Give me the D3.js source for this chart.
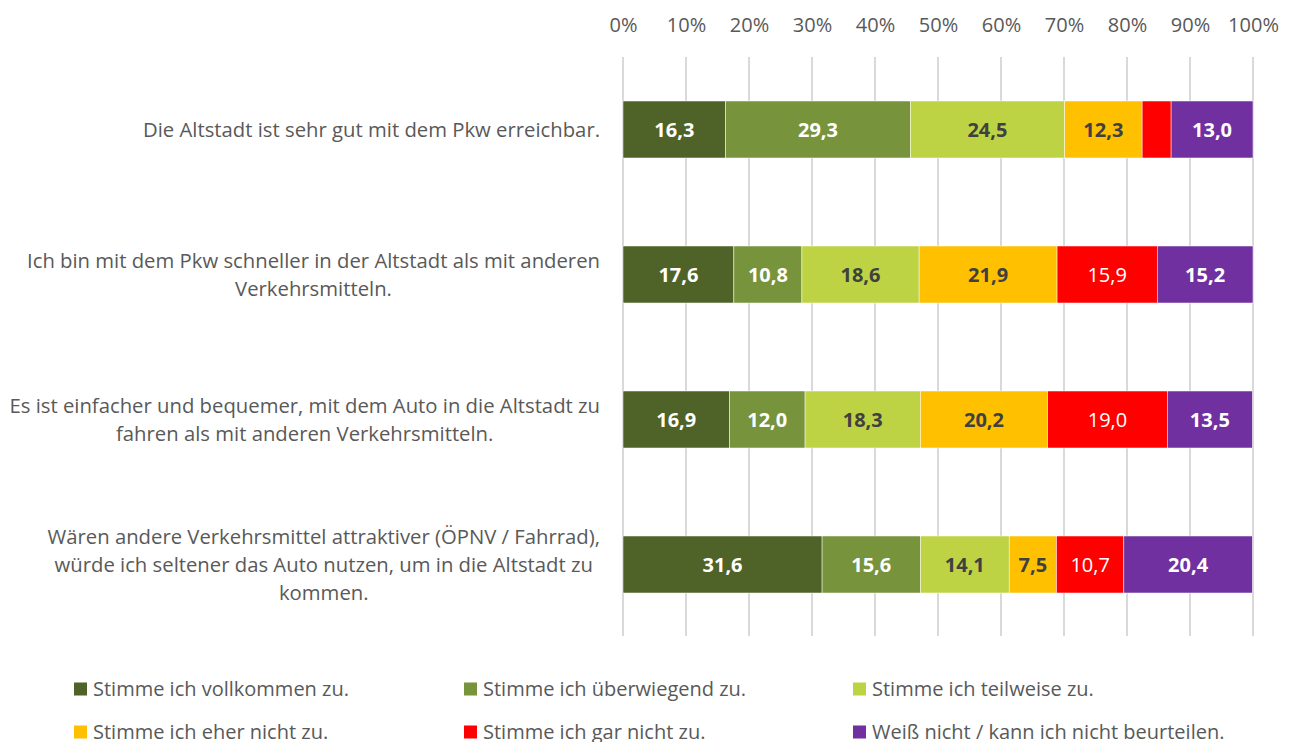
<!DOCTYPE html>
<html><head><meta charset="utf-8">
<script src="https://cdn.jsdelivr.net/npm/d3@7"></script>
<style>html,body{margin:0;padding:0;background:#fff;}svg{display:block;font-family:"Open Sans",sans-serif;}</style>
</head><body>
<svg id="chart" width="1290" height="742"></svg>
<script>
const categories = [
  "Die Altstadt ist sehr gut mit dem Pkw erreichbar.",
  "Ich bin mit dem Pkw schneller in der Altstadt als mit anderen\nVerkehrsmitteln.",
  "Es ist einfacher und bequemer, mit dem Auto in die Altstadt zu\nfahren als mit anderen Verkehrsmitteln.",
  "Wären andere Verkehrsmittel attraktiver (ÖPNV / Fahrrad),\nwürde ich seltener das Auto nutzen, um in die Altstadt zu\nkommen."
];
const seriesNames = [
  "Stimme ich vollkommen zu.",
  "Stimme ich überwiegend zu.",
  "Stimme ich teilweise zu.",
  "Stimme ich eher nicht zu.",
  "Stimme ich gar nicht zu.",
  "Weiß nicht / kann ich nicht beurteilen."
];
const vollkommen = [16.3, 17.6, 16.9, 31.6];
const ueberwiegend = [29.3, 10.8, 12.0, 15.6];
const teilweise = [24.5, 18.6, 18.3, 14.1];
const eherNicht = [12.3, 21.9, 20.2, 7.5];
const garNicht = [4.6, 15.9, 19.0, 10.7];
const weissNicht = [13.0, 15.2, 13.5, 20.4];
const showLabel = [[true,true,true,true],[true,true,true,true],[true,true,true,true],[true,true,true,true],[false,true,true,true],[true,true,true,true]];
const tickValues = [0,10,20,30,40,50,60,70,80,90,100];

const colors = ["#4F6228","#77933C","#BDD344","#FFC000","#FF0000","#7030A0"];
const labelColors = ["#FFFFFF","#FFFFFF","#404040","#404040","#FFFFFF","#FFFFFF"];
const labelWeights = ["bold","bold","bold","bold","normal","bold"];

const series = [vollkommen, ueberwiegend, teilweise, eherNicht, garNicht, weissNicht];
const rows = categories.map((c,i)=>{ const o={cat:c}; seriesNames.forEach((s,j)=>o[s]=series[j][i]); return o; });
const stacked = d3.stack().keys(seriesNames)(rows);

const svg = d3.select("#chart");
const x = d3.scaleLinear().domain([0,100]).range([623,1253]);
const y = d3.scaleBand().domain(categories).range([57,637]).paddingInner(0.607).paddingOuter(0.3035);

// gridlines
svg.append("g").selectAll("line").data(tickValues).join("line")
  .attr("x1",d=>x(d)).attr("x2",d=>x(d)).attr("y1",57).attr("y2",636)
  .attr("stroke","#D9D9D9").attr("stroke-width",2);

// top axis
const axis = svg.append("g").attr("transform","translate(0,40)")
  .call(d3.axisTop(x).tickValues(tickValues).tickFormat(d=>d+"%").tickSize(0).tickPadding(8));
axis.select(".domain").remove();
axis.selectAll("text").attr("font-family","Open Sans").attr("font-size",20).attr("fill","#595959");

// bars
const g = svg.append("g");
stacked.forEach((layer,j)=>{
  g.append("g").selectAll("rect").data(layer).join("rect")
    .attr("x",d=>x(d[0])).attr("width",d=>x(d[1])-x(d[0]))
    .attr("y",d=>y(d.data.cat)).attr("height",y.bandwidth())
    .attr("fill",colors[j]).attr("stroke","#ffffff").attr("stroke-width",0.5);
  g.append("g").selectAll("text").data(layer.filter((d,i)=>showLabel[j][i])).join("text")
    .attr("x",d=>(x(d[0])+x(d[1]))/2).attr("y",d=>y(d.data.cat)+y.bandwidth()/2)
    .attr("dy","0.36em").attr("text-anchor","middle")
    .attr("font-size",20).attr("font-weight",labelWeights[j]).attr("fill",labelColors[j])
    .text(d=>d3.format(".1f")(d[1]-d[0]).replace(".",","));
});

// category labels
const lh = 28;
categories.forEach(c=>{
  const lines = c.split("\n");
  const t = svg.append("text").attr("font-size",20.3).attr("fill","#595959").attr("text-anchor","middle");
  const cy = y(c)+y.bandwidth()/2;
  const spans = lines.map((l,i)=>t.append("tspan").attr("y",cy+(i-(lines.length-1)/2)*lh).attr("dy","0.36em").text(l));
  const maxW = d3.max(spans, s=>s.node().getComputedTextLength());
  spans.forEach(s=>s.attr("x",600-maxW/2));
});

// legend
const legX = [74,464,853], legY = [689,732];
seriesNames.forEach((s,j)=>{
  const lx = legX[j%3], ly = legY[Math.floor(j/3)];
  svg.append("rect").attr("x",lx).attr("y",ly-6.5).attr("width",13).attr("height",13).attr("fill",colors[j]);
  svg.append("text").attr("x",lx+19).attr("y",ly).attr("dy","0.36em").attr("font-size",20).attr("fill","#595959").text(s);
});
</script>
</body></html>
